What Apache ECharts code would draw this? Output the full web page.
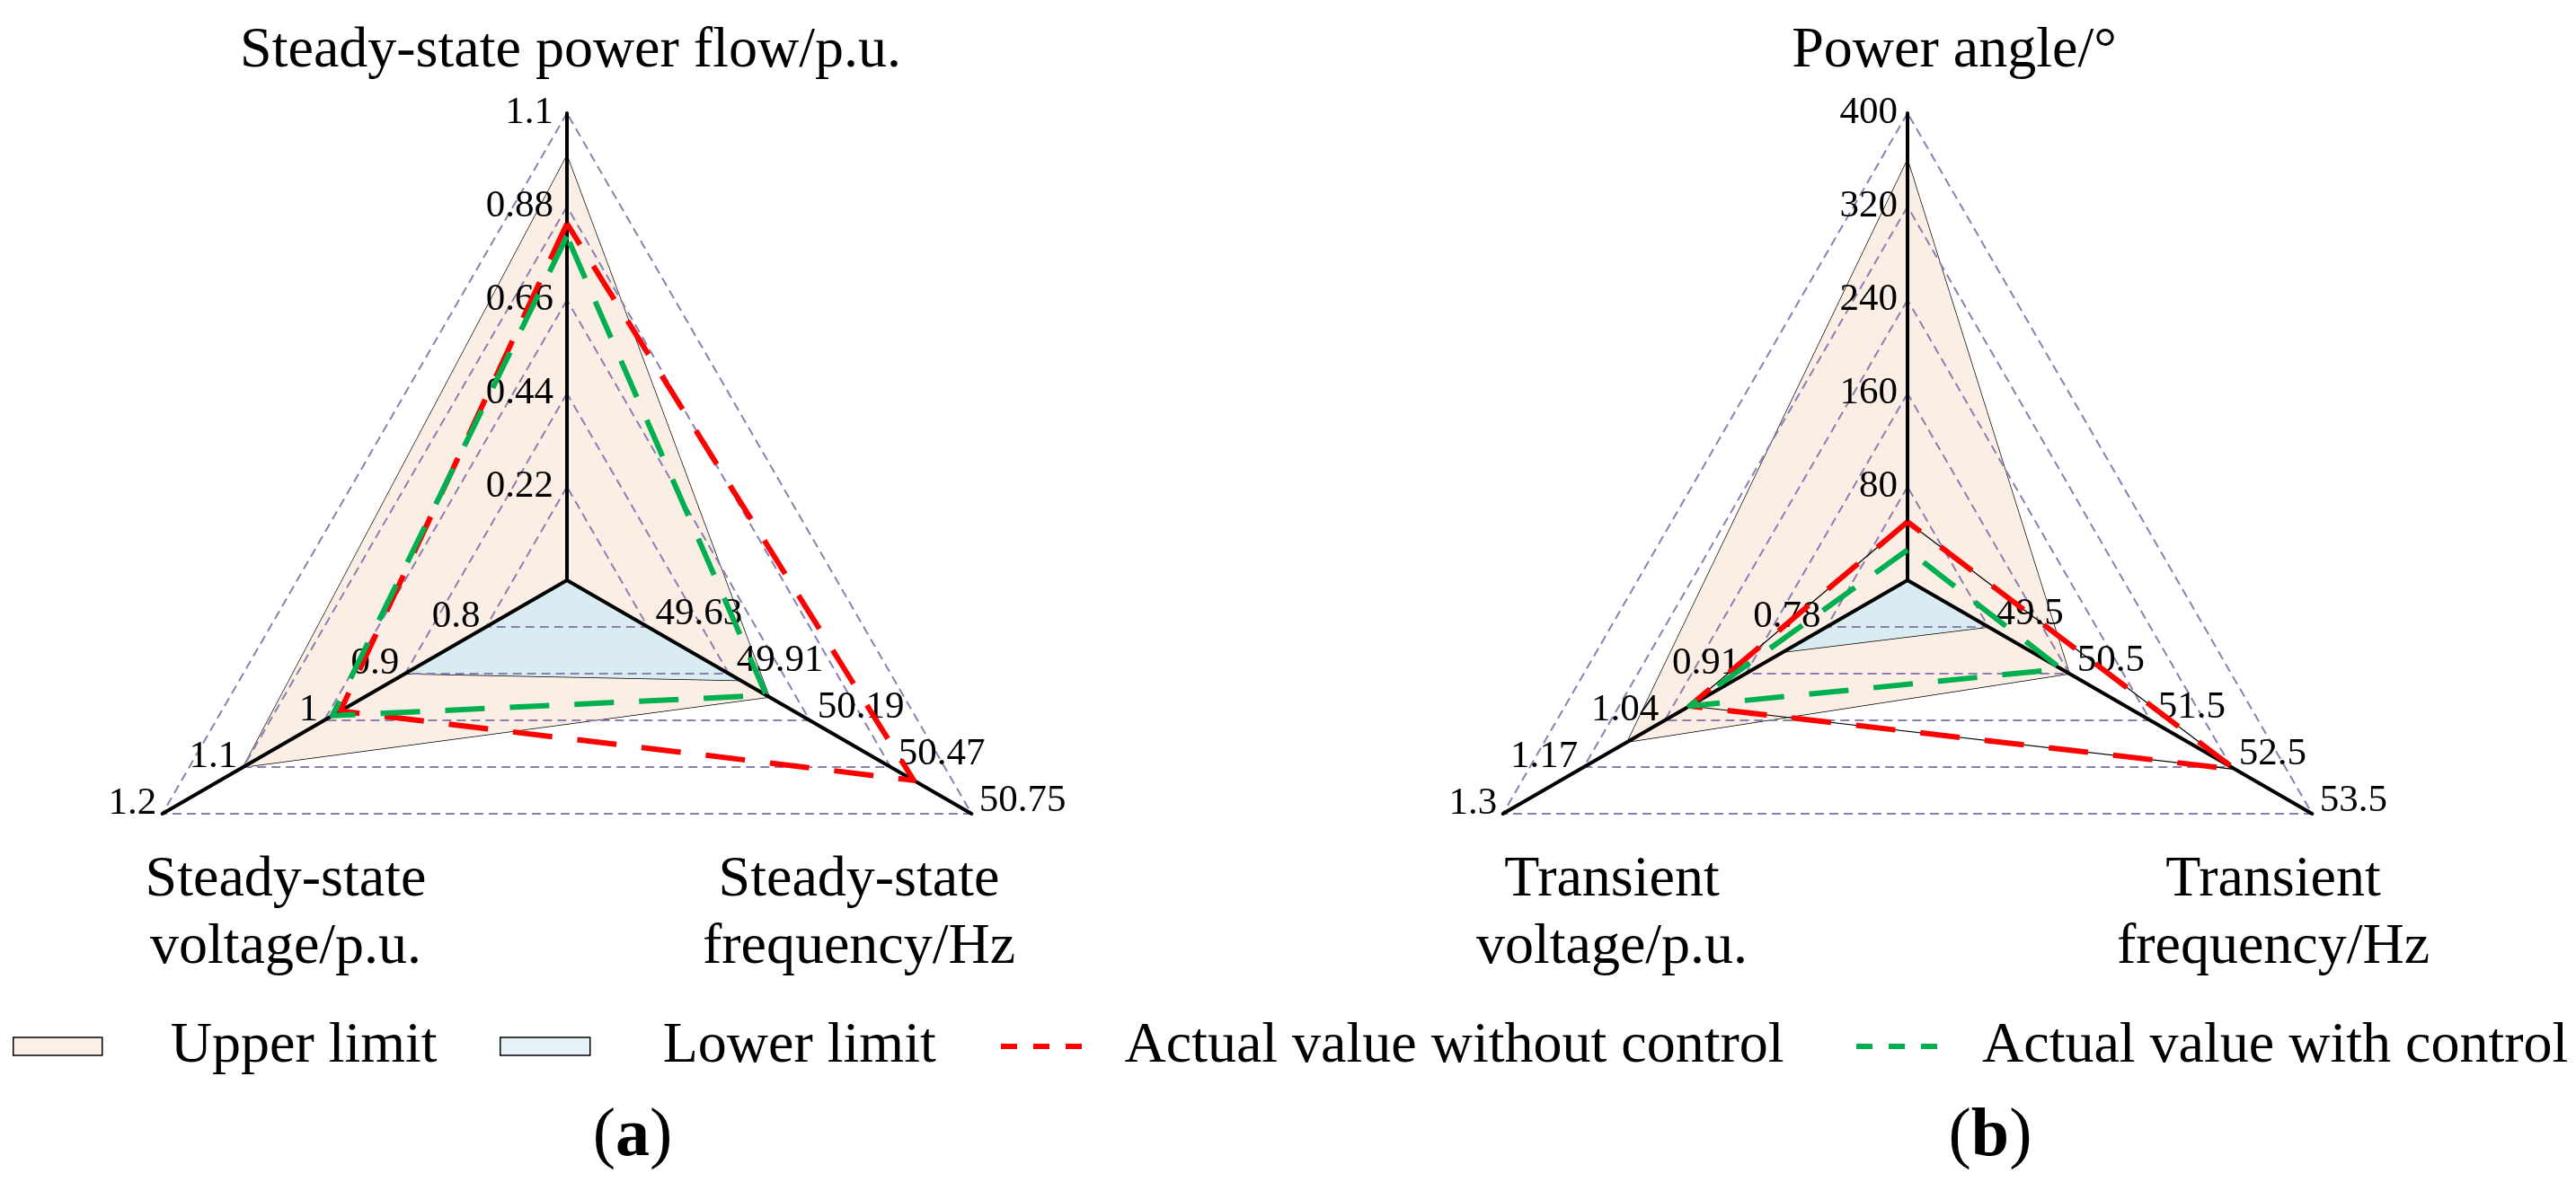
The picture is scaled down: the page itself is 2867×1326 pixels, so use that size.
<!DOCTYPE html>
<html>
<head>
<meta charset="utf-8">
<script src="https://cdn.jsdelivr.net/npm/echarts@6/dist/echarts.min.js"></script>
<style>
  html, body { margin: 0; padding: 0; background: #fff; }
  #chart { width: 2867px; height: 1326px; }
</style>
</head>
<body>
<div id="chart"></div>
<script>
// ---------------- data ----------------
// Left radar (a): steady state
const leftIndicatorNames = ['Steady-state power flow/p.u.', 'Steady-state voltage/p.u.', 'Steady-state frequency/Hz'];
const leftMin = [0, 0.7, 49.35];
const leftMax = [1.1, 1.2, 50.75];
const leftUpper = [1.0, 1.1, 50.05];
const leftLower = [0, 0.9, 49.95];
const leftWithout = [0.84, 0.98, 50.55];
const leftWith = [0.81, 0.99, 50.04];

// Right radar (b): transient
const rightIndicatorNames = ['Power angle/°', 'Transient voltage/p.u.', 'Transient frequency/Hz'];
const rightMin = [0, 0.65, 48.5];
const rightMax = [400, 1.3, 53.5];
const rightUpper = [360, 1.1, 50.5];
const rightLower = [0, 0.85, 49.5];
const rightWithout = [50, 1.0, 52.55];
const rightWith = [26, 1.0, 50.4];

const legendNames = ['Upper limit', 'Lower limit', 'Actual value without control', 'Actual value with control'];

// ---------------- style ----------------
const FONT = "Liberation Serif";
const UPPER_FILL = '#fbefe5';
const LOWER_FILL = '#d9ecf2';
const RED = '#ff0000';
const GREEN = '#00b050';
const GRID = '#8a7eb2';

function fmt(v) { return String(parseFloat(Number(v).toFixed(2))); }

function labelCfg(margin, align) {
  return {
    show: true,
    showMinLabel: false,
    margin: margin,
    align: align,
    verticalAlign: 'middle',
    fontSize: 43,
    fontFamily: FONT,
    fontWeight: 'normal',
    color: '#000',
    formatter: function (v, i) { return i === 0 ? '' : fmt(v); }
  };
}

function makeRadar(center, names, mins, maxs, topMargin) {
  const sideCfg = [labelCfg(topMargin, 'right'), labelCfg(-13, 'right'), labelCfg(17, 'left')];
  return {
    center: center,
    radius: 520,
    startAngle: 90,
    shape: 'polygon',
    splitNumber: 5,
    z: 2,
    indicator: names.map((n, i) => ({ name: n, min: mins[i], max: maxs[i], axisLabel: sideCfg[i] })),
    axisName: { show: false },
    axisLine: { show: true, lineStyle: { color: '#000', width: 4 } },
    axisTick: { show: false },
    splitLine: { show: true, lineStyle: { color: GRID, width: 2, type: [10, 6] } },
    splitArea: { show: false },
    axisLabel: labelCfg(14, 'right')
  };
}

function areaSeries(radarIndex, name, values, fill) {
  return {
    type: 'radar', radarIndex: radarIndex, z: 1, symbol: 'none', silent: true,
    data: [{ name: name, value: values }],
    itemStyle: { color: fill },
    lineStyle: { color: '#000', width: 1.4 },
    areaStyle: { color: fill, opacity: 1 }
  };
}
function dashSeries(radarIndex, name, values, color, z) {
  return {
    type: 'radar', radarIndex: radarIndex, z: z, symbol: 'none', silent: true,
    data: [{ name: name, value: values }],
    itemStyle: { color: color },
    lineStyle: { color: color, width: 6, type: [44, 28] }
  };
}
function outlineSeries(radarIndex, values) {
  return {
    type: 'radar', radarIndex: radarIndex, z: 3, symbol: 'none', silent: true,
    data: [{ name: 'outline', value: values }],
    itemStyle: { color: '#000' },
    lineStyle: { color: '#000', width: 1.2 }
  };
}

const titleStyle = { fontFamily: FONT, fontSize: 64, fontWeight: 'normal', color: '#000', lineHeight: 75 };
function textTitle(text, x, y) {
  return { text: text, left: x, top: y, textAlign: 'center', padding: 0, itemGap: 0, textStyle: titleStyle };
}
function panelTitle(letter, x) {
  return {
    text: '({b|' + letter + '})', left: x, top: 1228, textAlign: 'center', padding: 0,
    textStyle: {
      fontFamily: FONT, fontSize: 76, fontWeight: 'normal', color: '#000',
      rich: { b: { fontFamily: FONT, fontSize: 76, fontWeight: 'bold', color: '#000' } }
    }
  };
}

const dashIcon = 'path://M0,0h3v1h-3z M6,0h3v1h-3z M12,0h3v1h-3z';
function legendBlock(name, left, icon, itemStyle, iconW, iconH, gap) {
  return {
    left: left, top: 1133, padding: 0, orient: 'horizontal', selectedMode: false,
    itemWidth: iconW, itemHeight: iconH,
    data: [{ name: name, icon: icon, itemStyle: itemStyle }],
    textStyle: { fontFamily: FONT, fontSize: 64, color: '#000', padding: [0, 0, 0, gap] }
  };
}

const chart = echarts.init(document.getElementById('chart'), null, { renderer: 'canvas' });
chart.setOption({
  backgroundColor: '#ffffff',
  animation: false,
  textStyle: { fontFamily: FONT },
  title: [
    textTitle('Steady-state power flow/p.u.', 635, 20),
    textTitle('Power angle/°', 2175, 20),
    textTitle('Steady-state\nvoltage/p.u.', 318, 943),
    textTitle('Steady-state\nfrequency/Hz', 956, 943),
    textTitle('Transient\nvoltage/p.u.', 1794, 943),
    textTitle('Transient\nfrequency/Hz', 2530, 943),
    panelTitle('a', 704),
    panelTitle('b', 2215)
  ],
  legend: [
    legendBlock(legendNames[0], 14, 'rect', { color: '#fcf0e6', borderColor: '#000', borderWidth: 1.5 }, 99, 20, 71),
    legendBlock(legendNames[1], 556, 'rect', { color: '#e4f2f7', borderColor: '#000', borderWidth: 1.5 }, 100, 20, 76),
    legendBlock(legendNames[2], 1114, dashIcon, { color: RED, borderWidth: 0 }, 93, 6, 41),
    legendBlock(legendNames[3], 2066, dashIcon, { color: GREEN, borderWidth: 0 }, 92, 6, 44)
  ],
  radar: [
    makeRadar([631, 646], leftIndicatorNames, leftMin, leftMax, 15),
    makeRadar([2123, 646], rightIndicatorNames, rightMin, rightMax, 11)
  ],
  series: [
    areaSeries(0, legendNames[0], leftUpper, UPPER_FILL),
    areaSeries(0, legendNames[1], leftLower, LOWER_FILL),
    dashSeries(0, legendNames[2], leftWithout, RED, 4),
    dashSeries(0, legendNames[3], leftWith, GREEN, 5),
    areaSeries(1, legendNames[0], rightUpper, UPPER_FILL),
    areaSeries(1, legendNames[1], rightLower, LOWER_FILL),
    outlineSeries(1, rightWithout),
    dashSeries(1, legendNames[2], rightWithout, RED, 4),
    dashSeries(1, legendNames[3], rightWith, GREEN, 5)
  ]
});
</script>
</body>
</html>
